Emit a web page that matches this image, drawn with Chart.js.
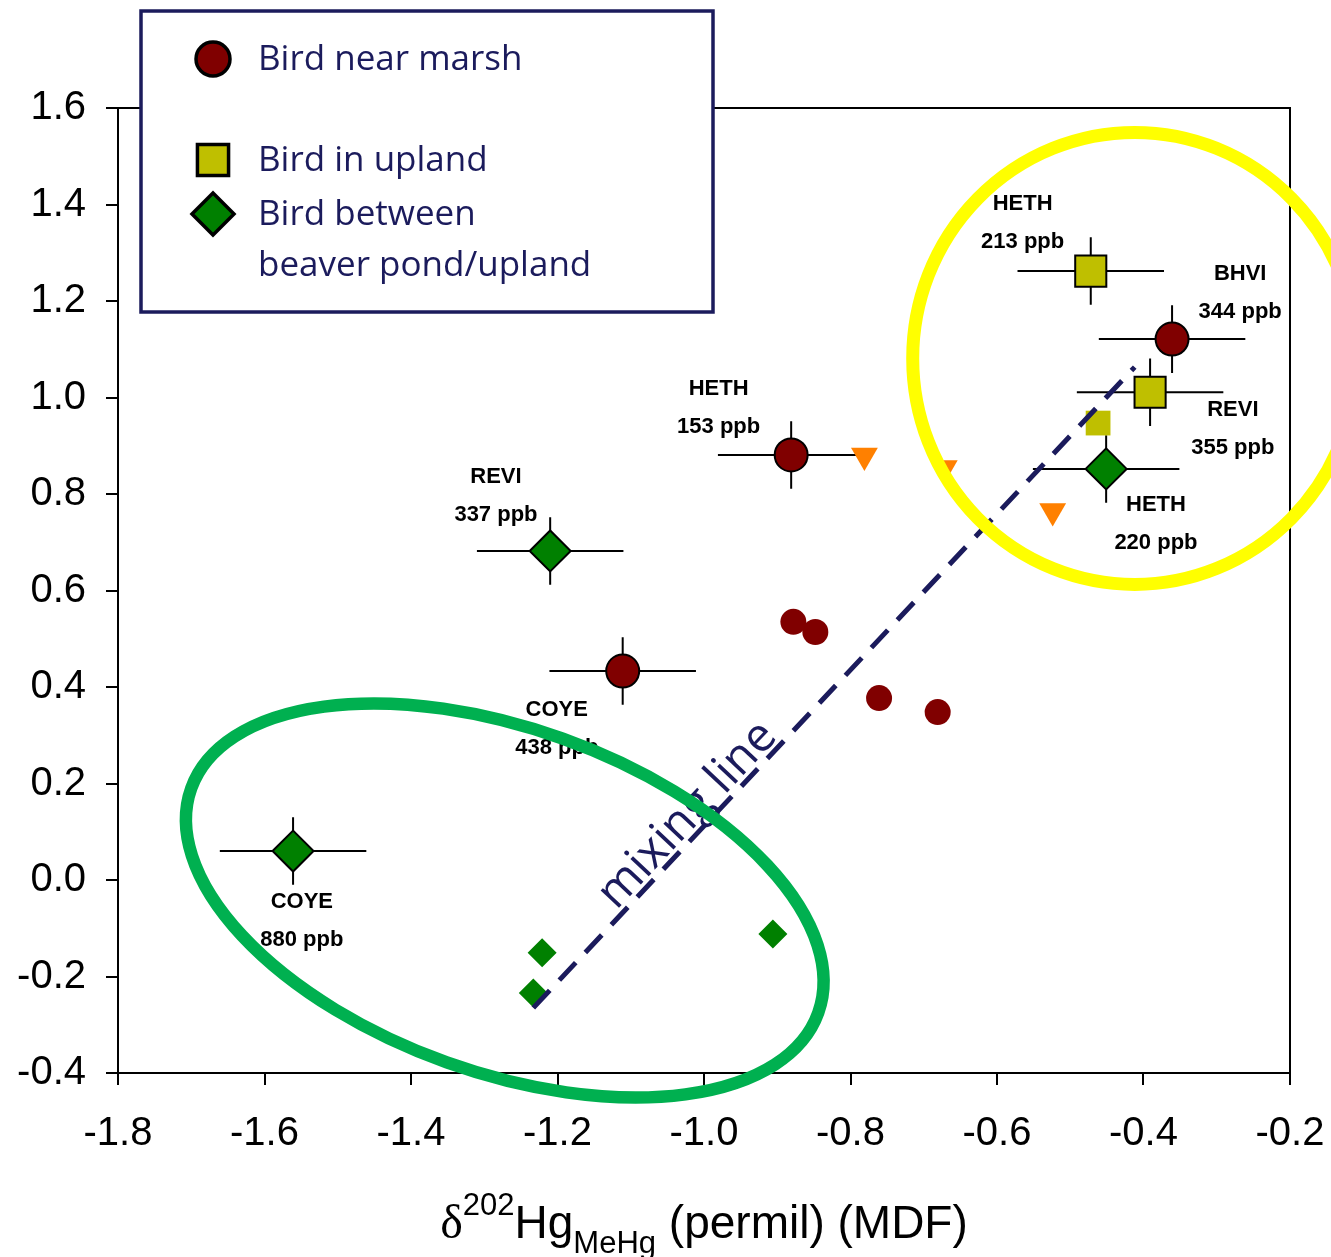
<!DOCTYPE html>
<html>
<head>
<meta charset="utf-8">
<script src="https://cdn.jsdelivr.net/npm/chart.js@4.4.0/dist/chart.umd.min.js"></script>
<style>
  body { margin: 0; background: #fff; }
  #chart { display: block; }
</style>
</head>
<body>
<canvas id="chart" width="1331" height="1257"></canvas>
<script>
// ---- data ----
var xTickValues = [-1.8, -1.6, -1.4, -1.2, -1.0, -0.8, -0.6, -0.4, -0.2];
var xTickLabels = ['-1.8', '-1.6', '-1.4', '-1.2', '-1.0', '-0.8', '-0.6', '-0.4', '-0.2'];
var yTickValues = [-0.4, -0.2, 0.0, 0.2, 0.4, 0.6, 0.8, 1.0, 1.2, 1.4, 1.6];
var yTickLabels = ['-0.4', '-0.2', '0.0', '0.2', '0.4', '0.6', '0.8', '1.0', '1.2', '1.4', '1.6'];

// bird near marsh (with error bars) and plain samples
var marshX = [-0.881, -1.111, -0.361];
var marshY = [0.881, 0.433, 1.121];
var marshXErr = [0.10, 0.10, 0.10];
var marshYErr = [0.07, 0.07, 0.07];
var marshSmallX = [-0.878, -0.848, -0.761, -0.681];
var marshSmallY = [0.535, 0.514, 0.377, 0.348];

// bird in upland
var uplandX = [-0.472, -0.391];
var uplandY = [1.262, 1.011];
var uplandXErr = [0.10, 0.10];
var uplandYErr = [0.07, 0.07];
var uplandSmallX = [-0.462];
var uplandSmallY = [0.947];

// bird between beaver pond / upland
var betweenX = [-1.210, -1.561, -0.451];
var betweenY = [0.682, 0.060, 0.852];
var betweenXErr = [0.10, 0.10, 0.10];
var betweenYErr = [0.07, 0.07, 0.07];
var betweenSmallX = [-1.221, -1.233, -0.906];
var betweenSmallY = [-0.151, -0.234, -0.112];

// orange triangles
var otherX = [-0.781, -0.672, -0.524];
var otherY = [0.880, 0.854, 0.765];

// mixing line end points
var mixingX = [-1.233, -0.412];
var mixingY = [-0.265, 1.063];

// species / concentration labels (centre of first line, data units)
var labelText = [
  ['HETH', '213 ppb'], ['BHVI', '344 ppb'], ['REVI', '355 ppb'], ['HETH', '220 ppb'],
  ['HETH', '153 ppb'], ['REVI', '337 ppb'], ['COYE', '438 ppb'], ['COYE', '880 ppb']
];
var labelX = [-0.565, -0.268, -0.278, -0.383, -0.980, -1.284, -1.201, -1.549];
var labelY = [1.401, 1.256, 0.974, 0.777, 1.018, 0.835, 0.352, -0.046];

var legendNames = ['Bird near marsh', 'Bird in upland', 'Bird between', 'beaver pond/upland'];

// ---- colours ----
var NAVY = '#1b1b5c';
var MAROON = '#800000';
var OLIVE = '#bfbf00';
var GREEN = '#008000';
var ORANGE = '#ff8000';

function toPoints(xs, ys) {
  return xs.map(function(x, i) { return { x: x, y: ys[i] }; });
}

// Error bars for datasets that carry xErr / yErr
var errorBarPlugin = {
  id: 'errorBars',
  beforeDatasetsDraw: function(chart) {
    var ctx = chart.ctx, xs = chart.scales.x, ys = chart.scales.y, a = chart.chartArea;
    ctx.save();
    ctx.strokeStyle = '#000';
    ctx.lineWidth = 2;
    // top and right frame lines
    ctx.beginPath();
    ctx.moveTo(a.left, a.top);
    ctx.lineTo(a.right, a.top);
    ctx.lineTo(a.right, a.bottom);
    ctx.stroke();
    chart.data.datasets.forEach(function(ds) {
      if (!ds.xErr) return;
      ds.data.forEach(function(p, i) {
        var px = xs.getPixelForValue(p.x), py = ys.getPixelForValue(p.y);
        ctx.beginPath();
        ctx.moveTo(xs.getPixelForValue(p.x - ds.xErr[i]), py);
        ctx.lineTo(xs.getPixelForValue(p.x + ds.xErr[i]), py);
        ctx.moveTo(px, ys.getPixelForValue(p.y - ds.yErr[i]));
        ctx.lineTo(px, ys.getPixelForValue(p.y + ds.yErr[i]));
        ctx.stroke();
      });
    });
    ctx.restore();
  }
};

// Labels, mixing-line caption and the two highlight ellipses
var annotationPlugin = {
  id: 'annotations',
  afterDatasetsDraw: function(chart) {
    var ctx = chart.ctx, xs = chart.scales.x, ys = chart.scales.y;
    ctx.save();
    ctx.fillStyle = '#000';
    ctx.font = 'bold 22px "Liberation Sans", Arial, sans-serif';
    ctx.textAlign = 'center';
    ctx.textBaseline = 'middle';
    labelText.forEach(function(lines, i) {
      var px = xs.getPixelForValue(labelX[i]), py = ys.getPixelForValue(labelY[i]);
      ctx.fillText(lines[0], px, py);
      ctx.fillText(lines[1], px, py + 38);
    });

    // caption along the mixing line
    var x0 = xs.getPixelForValue(mixingX[0]), y0 = ys.getPixelForValue(mixingY[0]);
    var x1 = xs.getPixelForValue(mixingX[1]), y1 = ys.getPixelForValue(mixingY[1]);
    var ang = Math.atan2(y1 - y0, x1 - x0);
    var t = 0.28;
    var cx = x0 + (x1 - x0) * t, cy = y0 + (y1 - y0) * t;
    ctx.translate(cx, cy);
    ctx.rotate(ang);
    ctx.fillStyle = NAVY;
    ctx.font = '47px "Open Sans", sans-serif';
    ctx.textAlign = 'center';
    ctx.textBaseline = 'alphabetic';
    ctx.fillText('mixing line', 0, -6);
    ctx.setTransform(1, 0, 0, 1, 0, 0);

    // green ellipse round the low group
    ctx.lineWidth = 12.5;
    ctx.strokeStyle = '#00b050';
    ctx.beginPath();
    ctx.ellipse(xs.getPixelForValue(-1.272), ys.getPixelForValue(-0.0425), 333, 172, 19.7 * Math.PI / 180, 0, Math.PI * 2);
    ctx.stroke();

    // yellow circle round the high group
    ctx.strokeStyle = '#ffff00';
    ctx.lineWidth = 13;
    ctx.beginPath();
    ctx.ellipse(xs.getPixelForValue(-0.412), ys.getPixelForValue(1.081), 222, 226, 0, 0, Math.PI * 2);
    ctx.stroke();
    ctx.restore();
  },
  afterDraw: function(chart) {
    var ctx = chart.ctx, a = chart.chartArea;
    ctx.save();

    // legend box
    ctx.fillStyle = '#fff';
    ctx.fillRect(141, 11, 572, 301);
    ctx.strokeStyle = NAVY;
    ctx.lineWidth = 3.5;
    ctx.strokeRect(141, 11, 572, 301);

    ctx.strokeStyle = '#000';
    ctx.fillStyle = MAROON;
    Chart.helpers.drawPoint(ctx, { pointStyle: 'circle', radius: 17, borderWidth: 2, rotation: 0 }, 213, 59);
    ctx.fillStyle = OLIVE;
    Chart.helpers.drawPoint(ctx, { pointStyle: 'rect', radius: 22, borderWidth: 2, rotation: 0 }, 213, 160);
    ctx.fillStyle = GREEN;
    Chart.helpers.drawPoint(ctx, { pointStyle: 'rectRot', radius: 21, borderWidth: 2, rotation: 0 }, 213, 214);

    ctx.fillStyle = NAVY;
    ctx.font = '35px "Open Sans", sans-serif';
    ctx.textAlign = 'left';
    ctx.textBaseline = 'middle';
    var rows = [60, 161, 215, 266];
    legendNames.forEach(function(name, i) { ctx.fillText(name, 258, rows[i]); });

    // x axis title with super / subscripts
    var parts = [
      { t: '\u03b4', font: '48px "Liberation Serif", serif', dy: 0 },
      { t: '202', font: '31px "Liberation Sans", Arial, sans-serif', dy: -23 },
      { t: 'Hg', font: '46px "Liberation Sans", Arial, sans-serif', dy: 0 },
      { t: 'MeHg', font: '31px "Liberation Sans", Arial, sans-serif', dy: 15 },
      { t: ' (permil) (MDF)', font: '46px "Liberation Sans", Arial, sans-serif', dy: 0 }
    ];
    var total = 0;
    parts.forEach(function(p) { ctx.font = p.font; p.w = ctx.measureText(p.t).width; total += p.w; });
    var x = (a.left + a.right) / 2 - total / 2;
    var base = a.bottom + 165;
    ctx.fillStyle = '#000';
    ctx.textBaseline = 'alphabetic';
    parts.forEach(function(p) {
      ctx.font = p.font;
      ctx.fillText(p.t, x, base + p.dy);
      x += p.w;
    });
    ctx.restore();
  }
};

var axisFont = { family: '"Liberation Sans", Arial, sans-serif', size: 40 };

new Chart(document.getElementById('chart'), {
  type: 'scatter',
  data: {
    datasets: [
      { label: 'mixing line', type: 'line', data: toPoints(mixingX, mixingY), order: 0,
        borderColor: NAVY, borderWidth: 5, borderDash: [24, 14], pointRadius: 0, fill: false },
      { label: 'Bird near marsh', data: toPoints(marshX, marshY), xErr: marshXErr, yErr: marshYErr, order: 2,
        pointStyle: 'circle', pointRadius: 16.5, backgroundColor: MAROON, borderColor: '#000', borderWidth: 2 },
      { label: 'marsh samples', data: toPoints(marshSmallX, marshSmallY), order: 3,
        pointStyle: 'circle', pointRadius: 13, backgroundColor: MAROON, borderWidth: 0 },
      { label: 'Bird in upland', data: toPoints(uplandX, uplandY), xErr: uplandXErr, yErr: uplandYErr, order: 2,
        pointStyle: 'rect', pointRadius: 22, backgroundColor: OLIVE, borderColor: '#000', borderWidth: 2 },
      { label: 'upland samples', data: toPoints(uplandSmallX, uplandSmallY), order: 3,
        pointStyle: 'rect', pointRadius: 17.5, backgroundColor: OLIVE, borderWidth: 0 },
      { label: 'Bird between beaver pond/upland', data: toPoints(betweenX, betweenY), xErr: betweenXErr, yErr: betweenYErr, order: 2,
        pointStyle: 'rectRot', pointRadius: 20.5, backgroundColor: GREEN, borderColor: '#000', borderWidth: 2 },
      { label: 'between samples', data: toPoints(betweenSmallX, betweenSmallY), order: 3,
        pointStyle: 'rectRot', pointRadius: 14.5, backgroundColor: GREEN, borderWidth: 0 },
      { label: 'other', data: toPoints(otherX, otherY), order: 3,
        pointStyle: 'triangle', rotation: 180, pointRadius: 15.5, backgroundColor: ORANGE, borderWidth: 0 }
    ]
  },
  options: {
    responsive: false,
    animation: false,
    devicePixelRatio: 1,
    layout: { padding: { top: 108, right: 41, left: 0, bottom: 0 } },
    plugins: { legend: { display: false }, tooltip: { enabled: false } },
    scales: {
      x: {
        type: 'linear', min: xTickValues[0], max: xTickValues[xTickValues.length - 1],
        afterBuildTicks: function(s) { s.ticks = xTickValues.map(function(v) { return { value: v }; }); },
        afterFit: function(s) { s.height = 184; s.paddingLeft = 0; s.paddingRight = 0; },
        ticks: { font: axisFont, color: '#000', padding: 25, maxRotation: 0, autoSkip: false,
          callback: function(v, i) { return xTickLabels[i]; } },
        grid: { drawOnChartArea: false, drawTicks: true, tickLength: 12, color: '#000', lineWidth: 2 },
        border: { display: true, color: '#000', width: 2 }
      },
      y: {
        type: 'linear', min: yTickValues[0], max: yTickValues[yTickValues.length - 1],
        afterBuildTicks: function(s) { s.ticks = yTickValues.map(function(v) { return { value: v }; }); },
        afterFit: function(s) { s.width = 118; s.paddingTop = 0; s.paddingBottom = 0; },
        ticks: { font: axisFont, color: '#000', padding: 20, autoSkip: false,
          callback: function(v, i) { return yTickLabels[i]; } },
        grid: { drawOnChartArea: false, drawTicks: true, tickLength: 12, color: '#000', lineWidth: 2 },
        border: { display: true, color: '#000', width: 2 }
      }
    }
  },
  plugins: [errorBarPlugin, annotationPlugin]
});
</script>
</body>
</html>
